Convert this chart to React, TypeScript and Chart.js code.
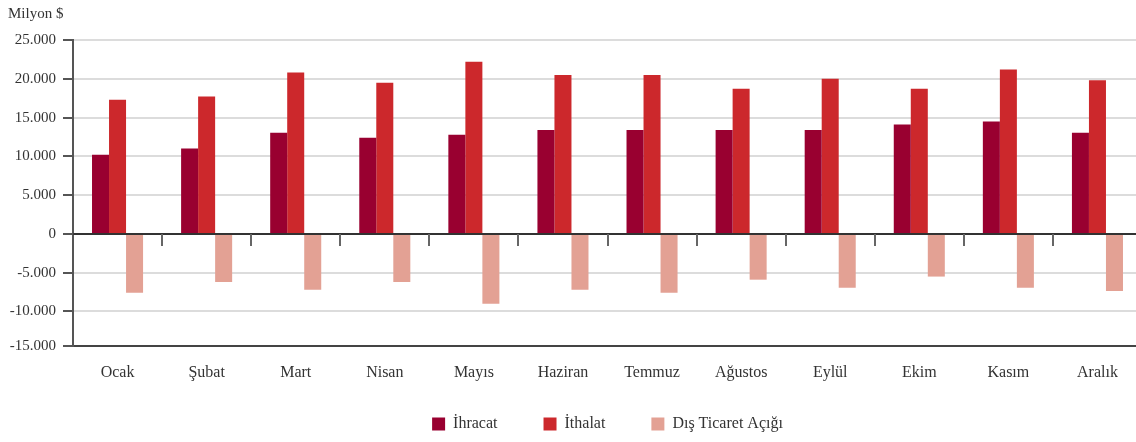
import React, { useEffect, useRef } from "react";
import { Chart, registerables } from "chart.js";

Chart.register(...registerables);

const categories = ["Ocak", "Şubat", "Mart", "Nisan", "Mayıs", "Haziran", "Temmuz", "Ağustos", "Eylül", "Ekim", "Kasım", "Aralık"];
const ihracat = [10200, 11000, 13050, 12400, 12800, 13400, 13400, 13400, 13400, 14100, 14500, 13050];
const ithalat = [17300, 17700, 20800, 19500, 22200, 20500, 20500, 18700, 20000, 18700, 21200, 19800];
const acik = [-7600, -6200, -7200, -6200, -9000, -7200, -7600, -5900, -6950, -5500, -6950, -7350];
const yTicks = [-14450, -10000, -5000, 0, 5000, 10000, 15000, 20000, 25000];
const yTickLabels = ["-15.000", "-10.000", "-5.000", "0", "5.000", "10.000", "15.000", "20.000", "25.000"];

const FONT = '"Liberation Serif", "Times New Roman", serif';

const separators = {
  id: "separators",
  afterDatasetsDraw(chart: any) {
    const { ctx, chartArea } = chart;
    const xs = chart.scales.x;
    const ys = chart.scales.y;
    const y0 = ys.getPixelForValue(0);
    ctx.save();
    ctx.strokeStyle = "#333";
    ctx.lineWidth = 1.5;
    ctx.beginPath();
    ctx.moveTo(chartArea.left, y0);
    ctx.lineTo(chartArea.right, y0);
    ctx.stroke();
    ctx.strokeStyle = "#666";
    ctx.lineWidth = 2;
    ctx.beginPath();
    for (let i = 1; i < categories.length; i++) {
      const px = Math.round((xs.getPixelForValue(i - 1) + xs.getPixelForValue(i)) / 2);
      ctx.moveTo(px, y0);
      ctx.lineTo(px, y0 + 12);
    }
    ctx.stroke();
    ctx.restore();
  },
};

export default function App() {
  const ref = useRef<HTMLCanvasElement | null>(null);
  useEffect(() => {
    document.body.style.margin = "0";
    document.body.style.overflow = "hidden";
    document.documentElement.style.overflow = "hidden";
    const canvas = ref.current!;
    const chart = new Chart(canvas, {
      type: "bar",
      data: {
        labels: categories,
        datasets: [
          { label: "İhracat", data: ihracat, backgroundColor: "#990030" },
          { label: "İthalat", data: ithalat, backgroundColor: "#cc282c" },
          { label: "Dış Ticaret Açığı", data: acik, backgroundColor: "#e3a194" },
        ],
      },
      options: {
        animation: false,
        responsive: false,
        devicePixelRatio: 1,
        layout: { padding: { left: 8, right: 0, top: 0, bottom: 0 } },
        datasets: { bar: { categoryPercentage: 0.573, barPercentage: 1 } },
        plugins: {
          title: {
            display: true,
            text: "Milyon $",
            align: "start",
            color: "#333",
            font: { family: FONT, size: 15, weight: "normal" },
            padding: { top: 5, bottom: 17 },
          },
          legend: {
            position: "bottom",
            fullSize: false,
            labels: {
              boxWidth: 13,
              boxHeight: 13,
              padding: 46,
              color: "#333",
              font: { family: FONT, size: 16 },
            },
          },
          tooltip: { enabled: false },
        },
        scales: {
          x: {
            grid: { display: false },
            border: { display: true, color: "#444", width: 2 },
            ticks: { color: "#333", padding: 9, font: { family: FONT, size: 16 } },
            afterFit: (s: any) => {
              s.height = 24;
              s._computeLabelArea = () => undefined;
            },
          },
          y: {
            min: -14450,
            max: 25000,
            afterBuildTicks: (s: any) => {
              s.ticks = yTicks.map((v) => ({ value: v }));
            },
            afterFit: (s: any) => {
              s.width = 65;
            },
            grid: {
              color: (c: any) => (c.tick && c.tick.value === 0 ? "#333" : "#dcdcdc"),
              lineWidth: 2,
              tickColor: "#555",
              tickLength: 10,
            },
            border: { display: true, color: "#555", width: 2 },
            ticks: {
              color: "#333",
              padding: 7,
              font: { family: FONT, size: 15 },
              callback: (v: any) => {
                const i = yTicks.indexOf(Number(v));
                return i >= 0 ? yTickLabels[i] : "";
              },
            },
          },
        },
      },
      plugins: [separators],
    });
    return () => chart.destroy();
  }, []);
  return (
    <div style={{ position: "absolute", left: 0, top: 0, width: 1142, height: 442 }}>
      <canvas ref={ref} width={1142} height={442} style={{ display: "block" }} />
    </div>
  );
}
